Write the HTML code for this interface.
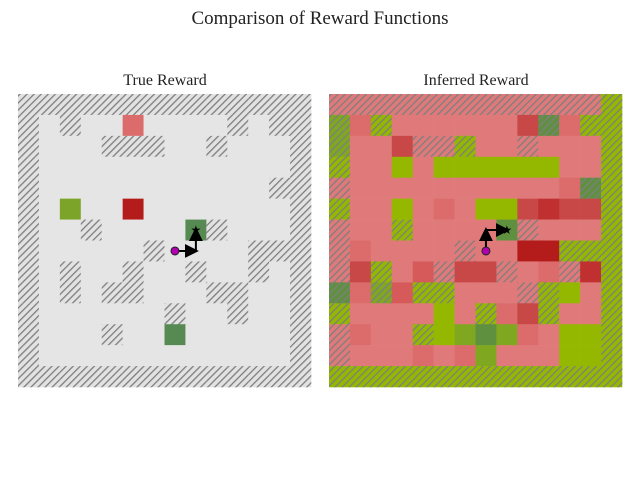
<!DOCTYPE html>
<html><head><meta charset="utf-8">
<style>
html,body{margin:0;padding:0;background:#fff;}
svg{display:block;}
text{font-family:"Liberation Serif",serif;fill:#222;}
</style></head>
<body>
<svg id="chart" width="640" height="480" viewBox="0 0 640 480">
<defs>
<pattern id="hatch" patternUnits="userSpaceOnUse" width="5" height="5" patternTransform="rotate(45)">
<rect width="5" height="5" fill="none"/>
<line x1="0" y1="0" x2="0" y2="5" stroke="#7e7e7e" stroke-width="2.6"/>
</pattern>
<marker id="arrowhead" markerWidth="7" markerHeight="7" refX="4" refY="3.5" orient="auto" markerUnits="strokeWidth">
<path d="M0,0 L7,3.5 L0,7 z" fill="#000"/>
</marker>
</defs>
<text x="320" y="24" font-size="19" text-anchor="middle">Comparison of Reward Functions</text>
<text x="165" y="85" font-size="16" text-anchor="middle">True Reward</text>
<text x="476" y="85" font-size="16" text-anchor="middle">Inferred Reward</text>
<g id="left"></g>
<g id="right"></g>
</svg>
<script>
const N = 14;
const palette = {E:"#e5e5e5",W:"#e2e2e2",A:"#dc6b6b",B:"#b41c1c",C:"#7ba428",F:"#568a52",P:"#e07a7a",Q:"#dc6c6c",S:"#d65a5a",R:"#c84848",T:"#c03030",D:"#b41c1c",G:"#94b800",M:"#7fa820",K:"#5f9040"};
// true reward grid: W wall, E empty, colored cells
const trueGrid = [
"W W W W W W W W W W W W W W",
"W E W E E A E E E E W E W W",
"W E E E W W W E E W E E E W",
"W E E E E E E E E E E E E W",
"W E E E E E E E E E E E W W",
"W E C E E B E E E E E E E W",
"W E E W E E E E F W E E E W",
"W E E E E E W E E E E W W W",
"W E W E E W E E W E E W E W",
"W E W E W W E E E W W E E W",
"W E E E E E E W E E W E E W",
"W E E E W E E F E E E E E W",
"W E E E E E E E E E E E E W",
"W W W W W W W W W W W W W W"];
// inferred reward grid: letter = colour, trailing h = wall (hatched)
const inferredGrid = [
"Ph Ph Ph Ph Ph Ph Ph Ph Ph Ph Ph Ph Ph Gh",
"Mh Q Gh P P P P P P R Kh Q Gh Gh",
"Mh P P R Ph Ph Gh P P Ph P P P Gh",
"Gh P P G P G G G G G G P P Gh",
"Ph P P P P P P P P P P Q Kh Gh",
"Gh P P G P Q P G G R T R R Gh",
"Ph P P Gh P P P P K Ph P P P Gh",
"Ph Q P P P P Ph P P D D Gh Gh Gh",
"Ph R Gh P S Ph R R Ph P Q Ph T Gh",
"Kh Q Mh S Gh Gh P P P Ph Gh G P Gh",
"Gh P P P P G P Gh Q R Gh P P Gh",
"Ph Q P P Gh G M K M Q P G G Gh",
"Ph P P P Q P Q M P P P G G Gh",
"Gh Gh Gh Gh Gh Gh Gh Gh Gh Gh Gh Gh Gh Gh"];
// agent path [row, col] for each panel
const truePath = [[7,7],[7,8],[6,8]];
const inferredPath = [[7,7],[6,7],[6,8]];

const SIZE = 293, CELL = SIZE / N, TOP = 94;
const ns = "http://www.w3.org/2000/svg";
function xPos(x0, c){ return x0 + c * CELL; }
function yPos(r){ return TOP + r * CELL; }

function drawGrid(gid, x0, grid, path){
  const g = document.getElementById(gid);
  grid.forEach((row, r) => {
    row.split(" ").forEach((tok, c) => {
      const hatched = tok === "W" || tok.endsWith("h");
      const col = palette[tok[0]];
      const rect = document.createElementNS(ns, "rect");
      rect.setAttribute("x", xPos(x0, c)); rect.setAttribute("y", yPos(r));
      rect.setAttribute("width", CELL + 0.3); rect.setAttribute("height", CELL + 0.3);
      rect.setAttribute("fill", col);
      
      
      g.appendChild(rect);
      if (hatched) {
        const h = document.createElementNS(ns, "rect");
        h.setAttribute("x", xPos(x0, c)); h.setAttribute("y", yPos(r));
        h.setAttribute("width", CELL + 0.3); h.setAttribute("height", CELL + 0.3);
        h.setAttribute("fill", "url(#hatch)");
        
        
        g.appendChild(h);
      }
    });
  });
  const pts = path.map(p => [xPos(x0, p[1]) + CELL/2, yPos(p[0]) + CELL/2]);
  for (let i = 0; i < pts.length - 1; i++) {
    const a = pts[i], b = pts[i+1];
    const ln = document.createElementNS(ns, "line");
    const dx = Math.sign(b[0]-a[0]), dy = Math.sign(b[1]-a[1]);
    ln.setAttribute("x1", a[0]); ln.setAttribute("y1", a[1]);
    ln.setAttribute("x2", b[0] - dx*3); ln.setAttribute("y2", b[1] - dy*3);
    ln.setAttribute("stroke", "#000"); ln.setAttribute("stroke-width", "2");
    ln.setAttribute("marker-end", "url(#arrowhead)");
    
    
    g.appendChild(ln);
  }
  const s = pts[0];
  const ag = document.createElementNS(ns, "circle");
  ag.setAttribute("cx", s[0]); ag.setAttribute("cy", s[1]); ag.setAttribute("r", 4);
  ag.setAttribute("fill", "#b000b0"); ag.setAttribute("stroke", "#222"); ag.setAttribute("stroke-width", "1");
  
  
  g.appendChild(ag);
  const e = pts[pts.length-1];
  const st = document.createElementNS(ns, "text");
  st.setAttribute("x", e[0]); st.setAttribute("y", e[1] + 4);
  st.setAttribute("font-size", "12"); st.setAttribute("text-anchor", "middle");
  st.setAttribute("style", "fill:#000;font-family:'DejaVu Sans',sans-serif");
  st.textContent = "★";
  
  
  g.appendChild(st);
}
drawGrid("left", 18, trueGrid, truePath);
drawGrid("right", 329, inferredGrid, inferredPath);
</script>
</body></html>
